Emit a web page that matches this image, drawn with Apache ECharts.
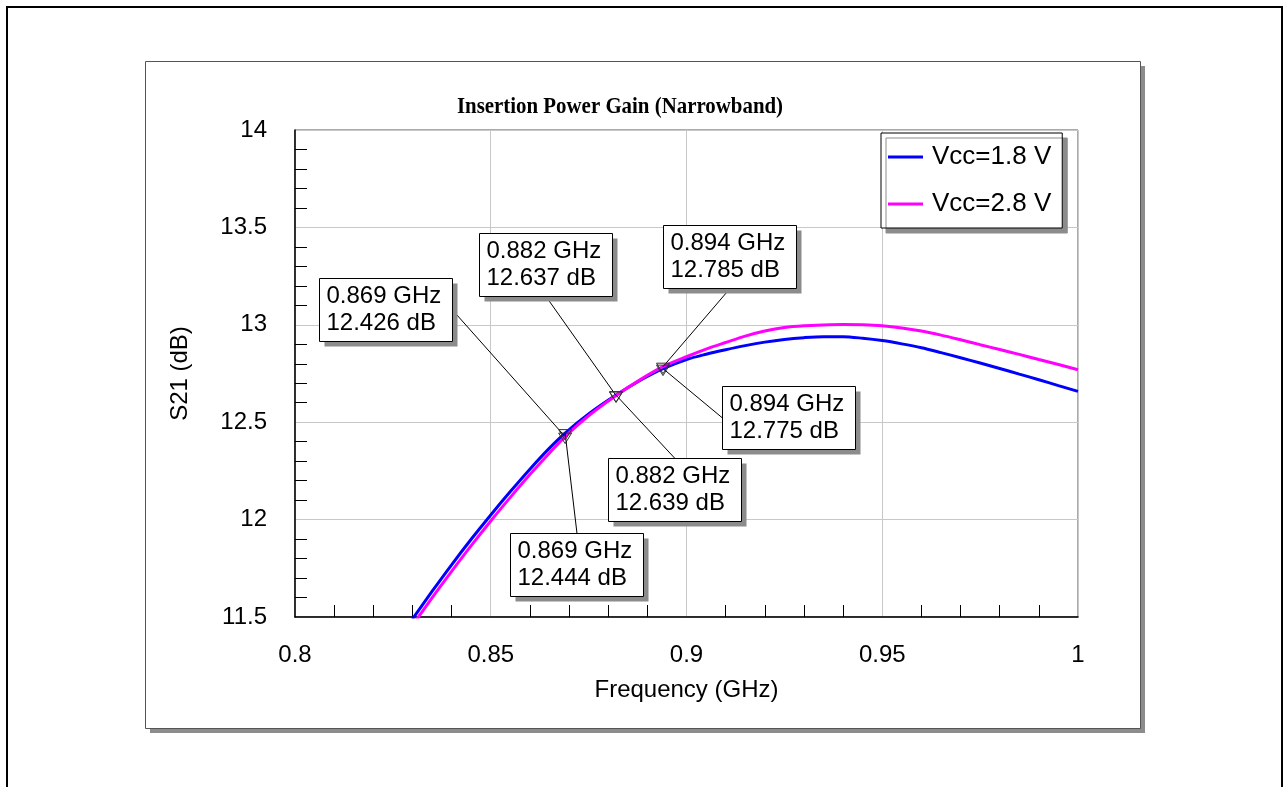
<!DOCTYPE html>
<html>
<head>
<meta charset="utf-8">
<script src="https://cdn.jsdelivr.net/npm/echarts@6/dist/echarts.min.js"></script>
<style>
  html, body { margin: 0; padding: 0; background: #fff; }
  #chart { width: 1285px; height: 787px; }
</style>
</head>
<body>
<div id="chart"></div>
<script>
// ---------------- data ----------------
const freqGHz = [0.830, 0.835, 0.840, 0.845, 0.850, 0.855, 0.860, 0.865, 0.869, 0.875,
                 0.882, 0.888, 0.894, 0.900, 0.905, 0.910, 0.915, 0.920, 0.925, 0.930,
                 0.935, 0.940, 0.945, 0.950, 0.955, 0.960, 0.965, 0.970, 0.975, 0.980,
                 0.985, 0.990, 0.995, 1.000];
const s21Vcc18 = [11.489, 11.631, 11.768, 11.899, 12.024, 12.144, 12.259, 12.367, 12.444, 12.542,
                  12.639, 12.713, 12.775, 12.822, 12.849, 12.872, 12.893, 12.911, 12.925, 12.934,
                  12.939, 12.939, 12.931, 12.919, 12.902, 12.882, 12.857, 12.831, 12.804, 12.776,
                  12.747, 12.718, 12.688, 12.658];
const s21Vcc28 = [11.457, 11.598, 11.734, 11.866, 11.993, 12.114, 12.231, 12.342, 12.426, 12.533,
                  12.637, 12.716, 12.785, 12.836, 12.875, 12.909, 12.942, 12.968, 12.986, 12.995,
                  12.999, 13.001, 13.000, 12.995, 12.984, 12.968, 12.947, 12.923, 12.898, 12.873,
                  12.848, 12.822, 12.796, 12.769];
const seriesNames = ['Vcc=1.8 V', 'Vcc=2.8 V'];
const markerFreq = [0.869, 0.882, 0.894, 0.869, 0.882, 0.894];
const markerVal  = [12.426, 12.637, 12.785, 12.444, 12.639, 12.775];
const xTicks = { min: 0.8, max: 1.0, step: 0.05 };
const yTicks = { min: 11.5, max: 14, step: 0.5 };
const titleText = 'Insertion Power Gain (Narrowband)';
const xName = 'Frequency (GHz)';
const yName = 'S21 (dB)';

// ---------------- layout (pixels, not data) ----------------
const annotOffsets = [[-179.6, -126.8], [-71, -130.7], [66, -110.6],
                      [11.4, 131.2], [58.5, 94.7], [125.5, 48.5]];
const BOX_W = 133, BOX_H = 63;
const SANS = '"Liberation Sans", Arial, sans-serif';
const SERIF = '"Liberation Serif", "Times New Roman", serif';

const chart = echarts.init(document.getElementById('chart'), null, { renderer: 'canvas' });

const markerData = markerFreq.map((f, i) => [f, markerVal[i]]);

const option = {
  animation: false,
  backgroundColor: '#fff',
  graphic: [
    { type: 'rect', z: -20, silent: true,
      shape: { x: 7, y: 7, width: 1275, height: 900 },
      style: { fill: 'none', stroke: '#000', lineWidth: 2 } },
    { type: 'rect', z: -19, silent: true,
      shape: { x: 150, y: 66, width: 995, height: 667 },
      style: { fill: '#8c8c8c' } },
    { type: 'rect', z: -18, silent: true,
      shape: { x: 145.5, y: 61.5, width: 995, height: 667 },
      style: { fill: '#fff', stroke: '#555', lineWidth: 1 } },
    { type: 'text', z: 10, silent: true,
      x: 620, y: 107, scaleX: 0.87, scaleY: 1,
      style: { text: titleText, font: 'bold 24px ' + SERIF, fill: '#000',
               align: 'center', verticalAlign: 'middle' } }
  ],
  legend: {
    orient: 'vertical',
    left: 881, top: 133,
    padding: [11, 11, 11, 7],
    itemGap: 21,
    itemWidth: 35, itemHeight: 3,
    icon: 'rect',
    backgroundColor: '#fff',
    borderColor: '#000', borderWidth: 1,
    shadowColor: '#8c8c8c', shadowBlur: 0, shadowOffsetX: 5, shadowOffsetY: 5,
    textStyle: { fontFamily: SANS, fontSize: 26, color: '#000', lineHeight: 26, padding: [0, 0, 0, 4] },
    data: seriesNames
  },
  grid: {
    left: 295, top: 130, right: 207, bottom: 170,
    show: true, borderColor: '#555', borderWidth: 1, backgroundColor: 'transparent'
  },
  xAxis: {
    type: 'value',
    min: xTicks.min, max: xTicks.max, interval: xTicks.step,
    name: xName, nameLocation: 'middle', nameGap: 61,
    nameTextStyle: { fontFamily: SANS, fontSize: 24, color: '#000' },
    axisLine: { show: true, onZero: false, lineStyle: { color: '#000', width: 1.5 } },
    axisTick: { show: false, inside: true },
    minorTick: { show: true, splitNumber: 5, length: 12, lineStyle: { color: '#000', width: 1 } },
    axisLabel: { fontFamily: SANS, fontSize: 24, color: '#000', margin: 26 },
    splitLine: { show: true, lineStyle: { color: '#c8c8c8', width: 1 } },
    minorSplitLine: { show: false }
  },
  yAxis: {
    type: 'value',
    min: yTicks.min, max: yTicks.max, interval: yTicks.step,
    name: yName, nameLocation: 'middle', nameGap: 103, nameRotate: 90,
    nameTextStyle: { fontFamily: SANS, fontSize: 24, color: '#000' },
    axisLine: { show: true, onZero: false, lineStyle: { color: '#000', width: 1.5 } },
    axisTick: { show: false, inside: true },
    minorTick: { show: true, splitNumber: 5, length: 12, lineStyle: { color: '#000', width: 1 } },
    axisLabel: { fontFamily: SANS, fontSize: 24, color: '#000', margin: 28, padding: [5, 0, 0, 0] },
    splitLine: { show: true, lineStyle: { color: '#c8c8c8', width: 1 } }
  },
  series: [
    {
      name: seriesNames[0], type: 'line', showSymbol: false, smooth: 0.3, clip: true,
      itemStyle: { color: '#0000ff' },
      lineStyle: { color: '#0000ff', width: 3 },
      data: freqGHz.map((f, i) => [f, s21Vcc18[i]])
    },
    {
      name: seriesNames[1], type: 'line', showSymbol: false, smooth: 0.3, clip: true,
      itemStyle: { color: '#ff00ff' },
      lineStyle: { color: '#ff00ff', width: 3 },
      data: freqGHz.map((f, i) => [f, s21Vcc28[i]])
    },
    {
      name: 'markers', type: 'custom', clip: false, z: 5,
      data: markerData,
      renderItem: function (params, api) {
        const i = params.dataIndex;
        const f = api.value(0), v = api.value(1);
        const p = api.coord([f, v]);
        const off = annotOffsets[i];
        const cx = p[0] + off[0], cy = p[1] + off[1];
        const left = Math.round(cx - BOX_W / 2) + 0.5, top = Math.round(cy - BOX_H / 2) + 0.5;
        const cands = [[left + BOX_W / 2, top], [left + BOX_W, top + BOX_H / 2],
                       [left + BOX_W / 2, top + BOX_H], [left, top + BOX_H / 2]];
        let best = cands[0], bd = Infinity;
        cands.forEach(c => {
          const d = (c[0] - p[0]) ** 2 + (c[1] - p[1]) ** 2;
          if (d < bd) { bd = d; best = c; }
        });
        const label = f.toFixed(3) + ' GHz\n' + v.toFixed(3) + ' dB';
        return {
          type: 'group',
          children: [
            { type: 'line', shape: { x1: p[0], y1: p[1], x2: best[0], y2: best[1] },
              style: { stroke: '#000', lineWidth: 1 } },
            { type: 'rect', shape: { x: left + 5, y: top + 5, width: BOX_W, height: BOX_H },
              style: { fill: '#8c8c8c' } },
            { type: 'rect', shape: { x: left, y: top, width: BOX_W, height: BOX_H },
              style: { fill: '#fff', stroke: '#000', lineWidth: 1 } },
            { type: 'text', x: left + 7, y: top + BOX_H / 2,
              style: { text: label, font: '24px ' + SANS, fill: '#000',
                       align: 'left', verticalAlign: 'middle', lineHeight: 27 } },
            { type: 'polygon',
              shape: { points: [[p[0] - 6.5, p[1] - 3.5], [p[0] + 6.5, p[1] - 3.5], [p[0], p[1] + 7]] },
              style: { fill: 'none', stroke: '#333', lineWidth: 1 } }
          ]
        };
      }
    }
  ]
};
chart.setOption(option);
</script>
</body>
</html>
